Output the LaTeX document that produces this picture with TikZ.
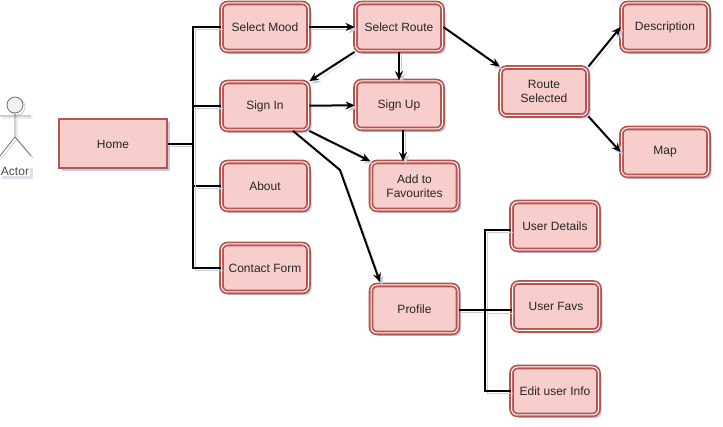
\documentclass[tikz,border=0pt]{standalone}
\usepackage{fontspec}
\setmainfont{Liberation Sans}
\usepackage{xcolor}
\usetikzlibrary{shapes.geometric, arrows, arrows.meta, positioning, shadows}
\definecolor{boxfill}{HTML}{F8CECC}
\definecolor{boxline}{HTML}{B85450}
\definecolor{shadowblue}{HTML}{C9CCDF}
\tikzstyle{screen} = [rectangle, rounded corners=6pt, minimum width=87pt, minimum height=48pt, align=center, text=black!85, font=\fontsize{12}{14}\selectfont, draw=boxline, line width=1.8pt, double=white, double distance=1pt, fill=boxfill, drop shadow={shadow xshift=3pt, shadow yshift=-3pt, fill=shadowblue, opacity=1}]
\tikzstyle{homebox} = [rectangle, minimum width=108pt, minimum height=49pt, text=black!85, font=\fontsize{12}{14}\selectfont, draw=boxline, line width=2pt, fill=boxfill, drop shadow={shadow xshift=3pt, shadow yshift=-3pt, fill=shadowblue, opacity=1}]
\tikzstyle{link} = [line width=2pt, black, preaction={draw=shadowblue, transform canvas={shift={(2.5pt,-2.5pt)}}}]
\tikzstyle{arrow} = [link, -{Stealth[length=9pt, width=8pt]}]
\tikzstyle{stick} = [draw=black!55, line width=0.8pt]
\begin{document}
\begin{tikzpicture}[x=1pt, y=-1pt]
\useasboundingbox (0,0) rectangle (723,427);
% Actor
\draw [draw=shadowblue, line width=0.8pt, shift={(2,2)}] (15,105) circle (8) (15,113) -- (15,137) (0,116) -- (31,116) (15,137) -- (0,156) (15,137) -- (31,156);
\node (head) [circle, stick, fill=black!5, minimum size=16pt, inner sep=0pt] at (15,105) {};
\draw [stick] (head.south) -- (15,137) -- (0,156) (15,137) -- (31,156) (0,116) -- (31,116);
\node (actor) [fill=white, inner sep=1pt, text=black!70, font=\fontsize{12}{14}\selectfont, drop shadow={shadow xshift=2.5pt, shadow yshift=-2.5pt, fill=shadowblue!60, opacity=1}] at (15,171) {Actor};

% Nodes
\node (home) [homebox] at (113,144) {Home};
\node (mood) [screen] at (265,27) {Select Mood};
\node (route) [screen] at (399,27) {Select Route};
\node (signin) [screen] at (265,106) {Sign In};
\node (signup) [screen] at (399,105) {Sign Up};
\node (about) [screen] at (265,186) {About};
\node (contact) [screen] at (265,268) {Contact Form};
\node (favs) [screen] at (414.5,186) {Add to\\Favourites};
\node (profile) [screen] at (414.5,309) {Profile};
\node (selected) [screen] at (544,91.5) {Route\\Selected};
\node (descr) [screen] at (665,27) {Description};
\node (map) [screen] at (665,152) {Map};
\node (details) [screen] at (555,226) {User Details};
\node (userfavs) [screen] at (556,306.5) {User Favs};
\node (edit) [screen] at (555,391) {Edit user Info};

% Bus points
\coordinate (homebus) at (193,144);
\coordinate (profbus) at (485,310);
\coordinate (bend) at (340,170);

% Lines
\draw [link] (home.east) -- (homebus);
\draw [link] (homebus) |- (mood.west);
\draw [link] (homebus) |- (signin.west);
\draw [link] (homebus) |- (about.west);
\draw [link] (homebus) |- (contact.west);
\draw [link] ([yshift=-1pt]profile.east) -- (profbus);
\draw [link] (profbus) |- ([yshift=-4pt]details.west);
\draw [link] (profbus) |- ([yshift=-4pt]userfavs.west);
\draw [link] (profbus) |- (edit.west);

% Arrows
\draw [arrow] (mood) -- (route);
\draw [arrow] (route.south west) -- (signin.north east);
\draw [arrow] (route) -- (signup);
\draw [arrow] (route.east) -- (selected.north west);
\draw [arrow] (signin) -- (signup);
\draw [arrow] ([xshift=4pt]signup.south) -- ([xshift=4pt]signup.south |- favs.north);
\draw [arrow] (signin.south east) -- (favs.north west);
\draw [arrow] ([xshift=28pt]signin.south) -- (bend) -- ([xshift=-34.5pt,yshift=2pt]profile.north);
\draw [arrow] (selected.north east) -- (descr.west);
\draw [arrow] (selected.south east) -- (map.west);
\end{tikzpicture}
\end{document}
